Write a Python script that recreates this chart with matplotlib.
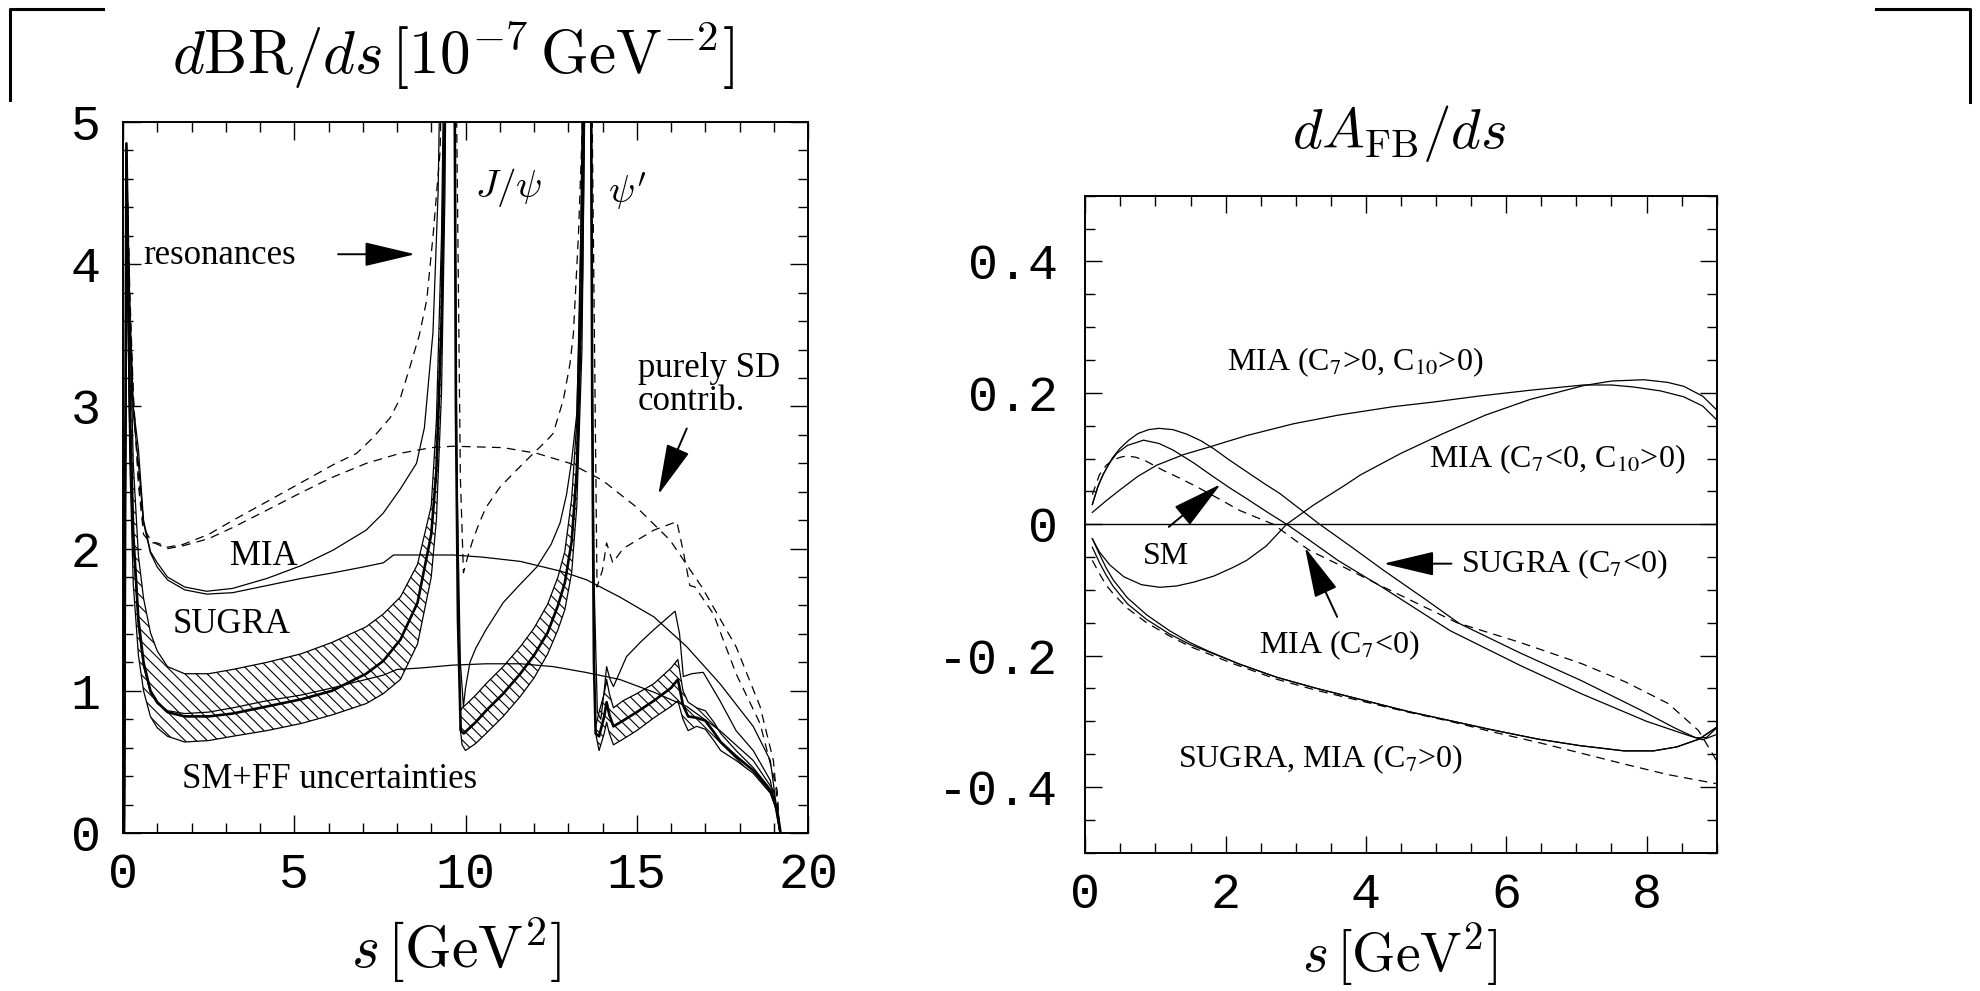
import matplotlib
matplotlib.use("Agg")
import matplotlib.pyplot as plt
from matplotlib.lines import Line2D
from matplotlib.ticker import MultipleLocator, FixedLocator, FixedFormatter

plt.rcParams["axes.unicode_minus"] = False
plt.rcParams["hatch.linewidth"] = 0.8
plt.rcParams["mathtext.fontset"] = "cm"

W, H = 1981, 991

# ---------------- left panel: dBR/ds ----------------
# SM + form-factor band, three pieces between the resonances
band1_s = [0.1, 0.2, 0.3, 0.45, 0.6, 0.8, 1.0, 1.3, 1.8, 2.5, 3.2, 4.2, 5.2, 6.1, 7.1, 7.6, 8.1, 8.6, 9.0, 9.15, 9.3, 9.4, 9.45]
band1_lo = [4.5, 2.6, 1.75, 1.25, 1.0, 0.82, 0.74, 0.68, 0.64, 0.65, 0.68, 0.72, 0.77, 0.83, 0.91, 0.98, 1.08, 1.33, 1.8, 2.2, 3.1, 4.5, 6.0]
band1_hi = [4.8, 3.6, 2.6, 1.95, 1.65, 1.41, 1.28, 1.17, 1.12, 1.12, 1.15, 1.2, 1.26, 1.34, 1.45, 1.54, 1.66, 1.89, 2.3, 2.9, 4.2, 6.0, 6.5]

band2_s = [9.84, 9.9, 10.0, 10.3, 10.6, 11.1, 11.6, 12.0, 12.4, 12.7, 12.9, 13.1, 13.25, 13.4, 13.5]
band2_lo = [0.75, 0.62, 0.58, 0.63, 0.70, 0.82, 0.96, 1.09, 1.26, 1.43, 1.57, 1.83, 2.3, 3.4, 5.5]
band2_hi = [0.85, 0.88, 0.90, 0.97, 1.05, 1.17, 1.31, 1.44, 1.61, 1.80, 1.98, 2.35, 2.9, 4.6, 6.5]

band3_s = [13.8, 13.9, 14.05, 14.12, 14.2, 14.32, 14.6, 15.0, 15.5, 16.0, 16.2, 16.35, 16.5, 16.75, 17.0, 17.25, 17.45, 17.9, 18.4, 18.9, 19.1, 19.2]
band3_lo = [0.70, 0.58, 0.70, 0.78, 0.70, 0.62, 0.66, 0.72, 0.81, 0.89, 0.93, 0.80, 0.72, 0.75, 0.73, 0.65, 0.58, 0.51, 0.42, 0.28, 0.15, 0.0]
band3_hi = [0.75, 0.85, 0.98, 1.08, 0.98, 0.88, 0.93, 0.98, 1.05, 1.16, 1.22, 1.0, 0.92, 0.88, 0.86, 0.78, 0.70, 0.58, 0.46, 0.31, 0.17, 0.0]

# SM central value with resonances (thick)
sm_s = [0.03, 0.1, 0.2, 0.3, 0.45, 0.6, 0.8, 1.0, 1.3, 1.8, 2.5, 3.2, 4.2, 5.2, 6.1, 7.1, 7.6, 8.1, 8.6, 9.0,
        9.15, 9.3, 9.4, 9.5, 9.62, 9.68, 9.72, 9.78, 9.86, 9.95, 10.3, 10.6, 11.1, 11.6, 12.0, 12.4, 12.7, 12.9,
        13.1, 13.25, 13.4, 13.5, 13.6, 13.66, 13.7, 13.75, 13.8, 13.9, 14.05, 14.12, 14.2, 14.32, 14.6, 15.0,
        15.5, 16.0, 16.2, 16.35, 16.5, 16.75, 17.0, 17.25, 17.45, 17.9, 18.4, 18.9, 19.1, 19.2]
sm_v = [0.0, 4.85, 3.0, 2.1, 1.5, 1.2, 1.0, 0.92, 0.85, 0.82, 0.82, 0.84, 0.89, 0.94, 1.0, 1.12, 1.21, 1.36, 1.62, 2.1,
        2.55, 3.6, 5.2, 7.0, 7.0, 5.5, 3.0, 1.5, 0.72, 0.70, 0.78, 0.86, 0.98, 1.12, 1.25, 1.41, 1.60, 1.76,
        2.05, 2.55, 3.9, 6.0, 7.0, 6.0, 3.0, 1.2, 0.70, 0.68, 0.82, 0.92, 0.83, 0.75, 0.79, 0.85,
        0.93, 1.02, 1.08, 0.90, 0.82, 0.81, 0.79, 0.71, 0.64, 0.54, 0.44, 0.30, 0.16, 0.0]

# SM short-distance only
smsd_s = [0.04, 0.1, 0.2, 0.3, 0.45, 0.6, 0.8, 1.0, 1.3, 1.8, 2.5, 3.2, 4.2, 5.2, 6.1, 7.1, 7.6, 8.0, 8.67, 9.6,
          10.6, 11.6, 12.56, 13.5, 14.5, 15.5, 16.46, 17.43, 18.4, 18.99, 19.18]
smsd_v = [0.0, 4.6, 2.9, 2.05, 1.45, 1.17, 0.99, 0.91, 0.86, 0.84, 0.85, 0.88, 0.93, 0.97, 1.02, 1.08, 1.11, 1.15, 1.16, 1.18,
          1.19, 1.19, 1.17, 1.13, 1.08, 0.99, 0.89, 0.72, 0.51, 0.30, 0.0]

# MIA with resonances
mia_s = [0.04, 0.1, 0.2, 0.3, 0.45, 0.6, 0.8, 1.0, 1.3, 1.8, 2.44, 3.2, 4.2, 5.2, 6.14, 7.1, 7.6, 8.1, 8.57, 8.8,
         9.05, 9.2, 9.3, 9.45, 9.62, 9.68, 9.75, 9.85, 9.94, 10.0, 10.13, 10.3, 10.6, 11.1, 11.6, 12.08, 12.5,
         12.76, 12.95, 13.1, 13.25, 13.34, 13.4, 13.5, 13.62, 13.68, 13.75, 13.85, 13.95, 14.05, 14.12, 14.22,
         14.32, 14.7, 15.1, 15.5, 16.12, 16.25, 16.36, 16.6, 16.94, 17.43, 17.9, 18.4, 18.9, 19.18]
mia_v = [0.0, 4.8, 3.7, 3.0, 2.7, 2.2, 1.98, 1.9, 1.8, 1.73, 1.70, 1.72, 1.79, 1.88, 1.99, 2.13, 2.25, 2.42, 2.6, 2.85,
         3.52, 4.5, 6.0, 7.0, 7.0, 5.0, 2.5, 1.2, 0.89, 1.02, 1.2, 1.3, 1.43, 1.62, 1.75, 1.87, 2.03,
         2.18, 2.38, 2.62, 2.95, 3.75, 4.9, 7.0, 7.0, 4.0, 1.8, 0.85, 0.8, 1.0, 1.17, 1.08,
         1.03, 1.24, 1.34, 1.43, 1.56, 1.4, 1.10, 1.12, 1.13, 0.93, 0.72, 0.58, 0.37, 0.0]

# MIA short-distance only
miasd_s = [0.04, 0.1, 0.2, 0.3, 0.45, 0.6, 0.8, 1.0, 1.3, 1.8, 2.44, 3.2, 4.2, 5.2, 6.14, 7.0, 7.6, 7.9, 9.06, 9.64,
           10.5, 11.6, 12.8, 13.54, 14.5, 15.5, 16.46, 17.43, 18.4, 18.9, 19.18]
miasd_v = [0.0, 4.75, 3.65, 2.95, 2.6, 2.18, 1.97, 1.87, 1.78, 1.71, 1.68, 1.69, 1.74, 1.79, 1.83, 1.87, 1.90, 1.955, 1.955, 1.955,
           1.94, 1.91, 1.84, 1.78, 1.66, 1.52, 1.31, 1.05, 0.75, 0.51, 0.0]

# dashed: with resonances
dash_s = [0.04, 0.1, 0.2, 0.3, 0.45, 0.6, 0.8, 1.0, 1.3, 1.76, 2.5, 3.22, 4.2, 5.17, 6.14, 6.82, 7.3, 7.8, 8.1, 8.38,
          8.65, 8.87, 9.06, 9.26, 9.35, 9.45, 9.62, 9.7, 9.85, 9.94, 10.05, 10.2, 10.4, 10.6, 11.0, 11.4, 11.9,
          12.37, 12.56, 12.86, 13.05, 13.15, 13.3, 13.4, 13.5, 13.62, 13.7, 13.84, 14.0, 14.12, 14.3, 14.6, 15.5,
          16.17, 16.35, 16.55, 16.7, 17.24, 17.9, 18.6, 19.1, 19.18]
dash_v = [0.0, 4.8, 3.8, 3.1, 2.45, 2.1, 2.04, 2.04, 2.01, 2.03, 2.1, 2.2, 2.33, 2.46, 2.59, 2.67, 2.78, 2.92, 3.06, 3.28,
          3.5, 3.75, 4.22, 4.8, 6.0, 7.0, 7.0, 6.0, 2.5, 1.83, 1.93, 2.05, 2.18, 2.29, 2.43, 2.53, 2.65,
          2.76, 2.81, 3.05, 3.3, 3.51, 4.22, 4.9, 7.0, 7.0, 5.0, 1.73, 1.85, 2.04, 1.9, 2.0, 2.13,
          2.19, 1.99, 1.74, 1.73, 1.54, 1.12, 0.77, 0.3, 0.0]

# dashed: purely short distance
dashsd_s = [0.04, 0.1, 0.2, 0.3, 0.45, 0.6, 0.8, 1.0, 1.3, 1.76, 2.5, 3.22, 4.2, 5.17, 6.1, 7.11, 8.09, 9.0, 9.64,
            11.1, 12.08, 13.05, 14.0, 15.0, 15.97, 16.9, 17.9, 18.6, 18.99, 19.18]
dashsd_v = [0.0, 4.7, 3.7, 3.05, 2.5, 2.15, 2.06, 2.03, 2.0, 2.02, 2.07, 2.15, 2.27, 2.39, 2.5, 2.6, 2.67, 2.71, 2.72,
            2.71, 2.67, 2.60, 2.48, 2.29, 2.06, 1.73, 1.31, 0.89, 0.51, 0.0]

left_xticks = [0, 5, 10, 15, 20]
left_yticks = [0, 1, 2, 3, 4, 5]

# ---------------- right panel: dA_FB/ds ----------------
sugra_neg_s = [0.1, 0.18, 0.26, 0.38, 0.49, 0.62, 0.75, 0.9, 1.05, 1.25, 1.45, 1.65, 1.83, 2.05, 2.3, 2.55, 2.77,
               3.05, 3.34, 3.8, 4.25, 4.87, 5.33, 6.2, 7.07, 7.9, 8.4, 8.7, 8.85, 9.0]
sugra_neg_v = [0.03, 0.058, 0.077, 0.1, 0.115, 0.128, 0.138, 0.144, 0.146, 0.144, 0.137, 0.127, 0.115, 0.098, 0.08,
               0.062, 0.047, 0.024, 0.0, -0.035, -0.07, -0.116, -0.151, -0.196, -0.238, -0.282, -0.31, -0.325, -0.325, -0.31]

mia_neg_s = [0.1, 0.18, 0.25, 0.35, 0.45, 0.6, 0.83, 1.05, 1.25, 1.55, 1.83, 2.05, 2.3, 2.6, 2.87, 3.06, 3.6, 4.25,
             5.2, 6.2, 7.07, 8.0, 8.61, 8.8, 9.0]
mia_neg_v = [0.03, 0.057, 0.075, 0.094, 0.108, 0.12, 0.128, 0.123, 0.113, 0.093, 0.072, 0.056, 0.039, 0.018, 0.0,
             -0.014, -0.055, -0.097, -0.162, -0.215, -0.258, -0.3, -0.322, -0.328, -0.32]

sm_afb_s = [0.1, 0.2, 0.3, 0.4, 0.5, 0.59, 0.72, 0.85, 1.11, 1.35, 1.59, 1.9, 2.2, 2.45, 2.68, 3.0, 3.2, 3.68, 4.2,
            5.3, 6.2, 7.07, 7.7, 8.31, 8.74, 9.0]
sm_afb_v = [0.045, 0.075, 0.09, 0.098, 0.102, 0.104, 0.102, 0.097, 0.082, 0.07, 0.057, 0.039, 0.021, 0.01, 0.0,
            -0.025, -0.04, -0.065, -0.093, -0.15, -0.18, -0.212, -0.24, -0.273, -0.314, -0.36]

mia_pp_s = [0.1, 0.3, 0.49, 0.75, 1.02, 1.4, 1.78, 2.3, 2.97, 3.6, 4.39, 4.96, 5.6, 6.34, 7.1, 7.5, 7.81, 8.2, 8.53, 8.8, 9.0]
mia_pp_v = [0.018, 0.036, 0.052, 0.073, 0.09, 0.106, 0.118, 0.135, 0.153, 0.166, 0.179, 0.186, 0.195, 0.204, 0.212,
            0.212, 0.209, 0.203, 0.194, 0.18, 0.159]

mia_np_s = [0.1, 0.2, 0.35, 0.55, 0.8, 1.06, 1.3, 1.55, 1.83, 2.1, 2.3, 2.58, 2.87, 3.25, 3.68, 3.92, 4.5, 5.1, 5.7,
            6.34, 7.1, 7.5, 7.96, 8.3, 8.53, 8.8, 9.0]
mia_np_v = [-0.022, -0.042, -0.062, -0.08, -0.092, -0.096, -0.094, -0.088, -0.079, -0.066, -0.055, -0.033, 0.0,
            0.029, 0.058, 0.075, 0.108, 0.138, 0.166, 0.19, 0.211, 0.218, 0.22, 0.216, 0.21, 0.195, 0.174]

low_s = [0.1, 0.2, 0.3, 0.4, 0.6, 0.875, 1.2, 1.49, 1.73, 2.2, 2.73, 3.3, 3.97, 4.6, 5.2, 5.8, 6.45, 7.05, 7.68,
         8.1, 8.43, 8.75, 9.0]
sugra_pos_v = [-0.022, -0.045, -0.067, -0.085, -0.112, -0.138, -0.162, -0.18, -0.192, -0.213, -0.233, -0.25, -0.268,
               -0.285, -0.299, -0.313, -0.327, -0.337, -0.345, -0.345, -0.339, -0.327, -0.309]
mia_pos_v = [-0.035, -0.058, -0.078, -0.095, -0.121, -0.145, -0.167, -0.183, -0.193, -0.213, -0.233, -0.25, -0.268,
             -0.285, -0.299, -0.313, -0.327, -0.337, -0.345, -0.345, -0.339, -0.327, -0.309]

sm_pos_s = [0.1, 0.2, 0.3, 0.4, 0.6, 0.875, 1.2, 1.49, 2.1, 2.73, 3.3, 3.97, 4.6, 5.2, 5.8, 6.45, 7.05, 7.68, 8.3, 9.0]
sm_pos_v = [-0.055, -0.075, -0.093, -0.106, -0.128, -0.15, -0.17, -0.186, -0.212, -0.236, -0.253, -0.27, -0.286,
            -0.3, -0.316, -0.332, -0.348, -0.365, -0.381, -0.395]

right_xticks = [0, 2, 4, 6, 8]
right_yticks = [-0.4, -0.2, 0.0, 0.2, 0.4]
right_ylabels = ["-0.4", "-0.2", "0", "0.2", "0.4"]

TXT = "Liberation Serif"
MONO = "Liberation Mono"
DASH = (7, 5)


def style_axes(ax, maj_len=13, min_len=7):
    for sp in ax.spines.values():
        sp.set_linewidth(1.4)
    ax.tick_params(which="both", direction="in", top=True, right=True, width=1.0,
                   labelsize=36, labelfontfamily=MONO)
    ax.tick_params(which="major", length=maj_len)
    ax.tick_params(which="minor", length=min_len)


fig = plt.figure(figsize=(W / 100, H / 100), dpi=100)

# left axes
ax1 = fig.add_axes([123 / W, 1 - 833 / H, 685 / W, 711 / H])
ax1.set_xlim(0, 20)
ax1.set_ylim(0, 5)

for bs, blo, bhi in [(band1_s, band1_lo, band1_hi), (band2_s, band2_lo, band2_hi), (band3_s, band3_lo, band3_hi)]:
    ax1.fill_between(bs, blo, bhi, facecolor="none", edgecolor="k", hatch="\\\\\\", linewidth=0)
    ax1.plot(bs, blo, color="k", lw=0.9)
    ax1.plot(bs, bhi, color="k", lw=0.9)

ax1.plot(sm_s, sm_v, color="k", lw=1.9)
ax1.plot(smsd_s, smsd_v, color="k", lw=0.9)
ax1.plot(mia_s, mia_v, color="k", lw=0.9)
ax1.plot(miasd_s, miasd_v, color="k", lw=0.9)
ax1.plot(dash_s, dash_v, color="k", lw=0.9, dashes=DASH)
ax1.plot(dashsd_s, dashsd_v, color="k", lw=0.9, dashes=DASH)

style_axes(ax1)
ax1.xaxis.set_major_locator(FixedLocator(left_xticks))
ax1.yaxis.set_major_locator(FixedLocator(left_yticks))
ax1.xaxis.set_minor_locator(MultipleLocator(1))
ax1.yaxis.set_minor_locator(MultipleLocator(0.2))
ax1.tick_params(axis="y", pad=16)
ax1.tick_params(axis="x", pad=14)

ax1.text(0.58, 4.0, "resonances", fontsize=25, family=TXT, ha="left", va="baseline")
ax1.text(4.12, 1.885, "MIA", fontsize=25, family=TXT, ha="center", va="baseline")
ax1.text(3.18, 1.404, "SUGRA", fontsize=25, family=TXT, ha="center", va="baseline")
ax1.text(6.04, 0.314, "SM+FF uncertainties", fontsize=25, family=TXT, ha="center", va="baseline")
ax1.text(15.04, 3.21, "purely SD", fontsize=25, family=TXT, ha="left", va="baseline")
ax1.text(15.04, 2.975, "contrib.", fontsize=25, family=TXT, ha="left", va="baseline")
ax1.text(11.27, 4.54, r"$J/\psi$", fontsize=28, ha="center", va="center")
ax1.text(14.72, 4.51, r"$\psi'$", fontsize=28, ha="center", va="center")

arrow = dict(arrowstyle="-|>,head_length=1.6,head_width=0.38", mutation_scale=20,
             color="k", lw=1.4, shrinkA=0, shrinkB=0)
ax1.annotate("", xy=(8.53, 4.07), xytext=(6.28, 4.07), arrowprops=arrow)
ax1.annotate("", xy=(15.63, 2.38), xytext=(16.46, 2.845), arrowprops=arrow)

# right axes
ax2 = fig.add_axes([1085.3 / W, 1 - 852.7 / H, 631.4 / W, 656.9 / H])
ax2.set_xlim(0, 9)
ax2.set_ylim(-0.5, 0.5)
ax2.axhline(0, color="k", lw=1.0)

ax2.plot(sugra_neg_s, sugra_neg_v, color="k", lw=0.9)
ax2.plot(mia_neg_s, mia_neg_v, color="k", lw=0.9)
ax2.plot(sm_afb_s, sm_afb_v, color="k", lw=0.9, dashes=DASH)
ax2.plot(mia_pp_s, mia_pp_v, color="k", lw=0.9)
ax2.plot(mia_np_s, mia_np_v, color="k", lw=0.9)
ax2.plot(low_s, sugra_pos_v, color="k", lw=0.9)
ax2.plot(low_s, mia_pos_v, color="k", lw=0.9)
ax2.plot(sm_pos_s, sm_pos_v, color="k", lw=0.9, dashes=DASH)

style_axes(ax2, maj_len=12, min_len=7)
ax2.xaxis.set_major_locator(FixedLocator(right_xticks))
ax2.xaxis.set_minor_locator(MultipleLocator(0.5))
ax2.yaxis.set_major_locator(FixedLocator(right_yticks))
ax2.yaxis.set_major_formatter(FixedFormatter(right_ylabels))
ax2.yaxis.set_minor_locator(MultipleLocator(0.05))
ax2.tick_params(axis="y", pad=20)
ax2.tick_params(axis="x", pad=14)

lab = dict(fontsize=23, family=TXT, math_fontfamily="stix", va="baseline")
ax2.text(3.84, 0.235, r"MIA (C$_7$>0, C$_{10}$>0)", ha="center", **lab)
ax2.text(6.73, 0.087, r"MIA (C$_7$<0, C$_{10}$>0)", ha="center", **lab)
ax2.text(1.15, -0.06, "SM", ha="center", **lab)
ax2.text(5.36, -0.073, r"SUGRA (C$_7$<0)", ha="left", **lab)
ax2.text(3.62, -0.197, r"MIA (C$_7$<0)", ha="center", **lab)
ax2.text(3.36, -0.37, r"SUGRA, MIA (C$_7$>0)", ha="center", **lab)

ax2.annotate("", xy=(1.93, 0.061), xytext=(1.19, -0.004), arrowprops=arrow)
ax2.annotate("", xy=(4.25, -0.06), xytext=(5.22, -0.06), arrowprops=arrow)
ax2.annotate("", xy=(3.13, -0.035), xytext=(3.59, -0.141), arrowprops=arrow)

# titles and axis labels
fig.text(453 / W, 1 - 55 / H, r"$d\mathrm{BR}/ds\,[10^{-7}\,\mathrm{GeV}^{-2}]$", fontsize=44, ha="center", va="center")
fig.text(1399 / W, 1 - 133 / H, r"$dA_{\mathrm{FB}}/ds$", fontsize=41, ha="center", va="center")
fig.text(456 / W, 1 - 950 / H, r"$s\,[\mathrm{GeV}^2]$", fontsize=43, ha="center", va="center")
fig.text(1400 / W, 1 - 955 / H, r"$s\,[\mathrm{GeV}^2]$", fontsize=40, ha="center", va="center")

# corner marks at the top
for xs, ys in [([10, 10, 103], [100, 9, 9]), ([1876, 1970, 1970], [9, 9, 102])]:
    fig.add_artist(Line2D([x / W for x in xs], [1 - y / H for y in ys], color="k", lw=2.2))

fig.savefig("out.png", dpi=100)
